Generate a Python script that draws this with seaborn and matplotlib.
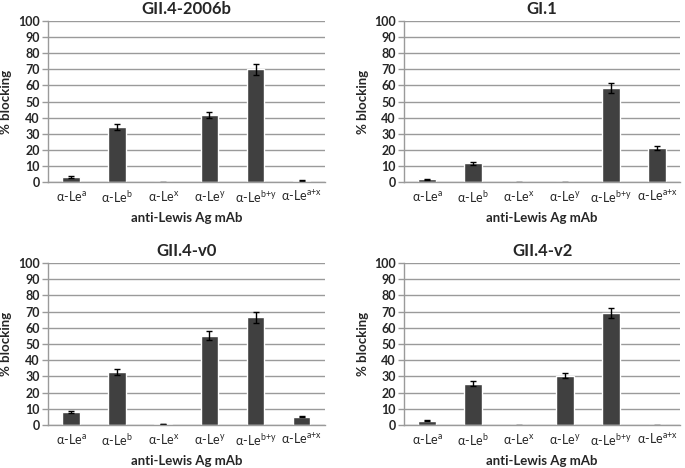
import matplotlib
matplotlib.use("Agg")
import matplotlib.pyplot as plt
import seaborn as sns
import pandas as pd

categories = [r"α-Le$^{\mathrm{a}}$", r"α-Le$^{\mathrm{b}}$", r"α-Le$^{\mathrm{x}}$",
              r"α-Le$^{\mathrm{y}}$", r"α-Le$^{\mathrm{b{+}y}}$", r"α-Le$^{\mathrm{a{+}x}}$"]
titles = ["GII.4-2006b", "GI.1", "GII.4-v0", "GII.4-v2"]

vals_2006b = [3.2, 34.3, -0.4, 41.5, 70.0, 0.8]
err_2006b = [0.4, 1.7, 0.2, 1.8, 3.5, 0.3]
vals_gi1 = [1.8, 11.7, -0.3, -0.3, 58.5, 21.0]
err_gi1 = [0.3, 0.8, 0.1, 0.1, 3.0, 1.3]
vals_v0 = [7.8, 32.7, 0.5, 55.2, 66.5, 5.0]
err_v0 = [0.6, 1.7, 0.2, 2.6, 3.5, 0.4]
vals_v2 = [2.7, 25.5, -0.3, 30.5, 69.0, -0.3]
err_v2 = [0.4, 1.5, 0.1, 1.5, 3.0, 0.1]

yticks = list(range(0, 101, 10))
xlabel = "anti-Lewis Ag mAb"
ylabel = "% blocking"

series = [(vals_2006b, err_2006b), (vals_gi1, err_gi1), (vals_v0, err_v0), (vals_v2, err_v2)]

sns.set_theme(style="white")
plt.rcParams['font.family'] = ['Lato', 'DejaVu Sans']
plt.rcParams['mathtext.fontset'] = 'custom'
plt.rcParams['mathtext.rm'] = 'Lato'
plt.rcParams['mathtext.it'] = 'Lato:italic'
plt.rcParams['mathtext.bf'] = 'Lato:bold'

fig = plt.figure(figsize=(6.85, 4.68), dpi=100)
positions = [
    [0.070, 0.611, 0.404, 0.344],
    [0.590, 0.611, 0.403, 0.344],
    [0.070, 0.092, 0.404, 0.346],
    [0.590, 0.092, 0.403, 0.346],
]
bar_color = "#404040"
grid_color = "#9a9a9a"

for pos, title, (vals, errs) in zip(positions, titles, series):
    ax = fig.add_axes(pos)
    df = pd.DataFrame({"cat": categories, "val": vals, "err": errs})
    sns.barplot(data=df, x="cat", y="val", color=bar_color, saturation=1,
                width=0.38, errorbar=None, ax=ax)
    xs = range(len(categories))
    ax.errorbar(list(xs), df["val"], yerr=df["err"], fmt="none",
                ecolor="black", elinewidth=1.0, capsize=2.5, capthick=1.0)
    ax.set_ylim(0, 100)
    ax.set_xlim(-0.5, len(categories) - 0.5)
    ax.set_yticks(yticks)
    ax.set_yticklabels([str(t) for t in yticks], fontsize=9, fontweight="bold")
    ax.yaxis.grid(True, color=grid_color, linewidth=1.0)
    ax.set_axisbelow(True)
    ax.tick_params(axis="y", length=4, width=1, color=grid_color, pad=2, left=True)
    ax.tick_params(axis="x", length=0, labelsize=9, pad=5)
    for lab in ax.get_xticklabels():
        lab.set_fontweight("normal")
    for s in ["top", "right"]:
        ax.spines[s].set_visible(False)
    for s in ["left", "bottom"]:
        ax.spines[s].set_color(grid_color)
        ax.spines[s].set_linewidth(1.0)
    ax.set_xlabel(xlabel, fontsize=9.5, fontweight="bold", labelpad=5)
    ax.set_ylabel(ylabel, fontsize=9.5, fontweight="bold", labelpad=4)
    ax.set_title(title, fontsize=12, fontweight="bold", pad=5)

fig.savefig("out.png", dpi=100)
